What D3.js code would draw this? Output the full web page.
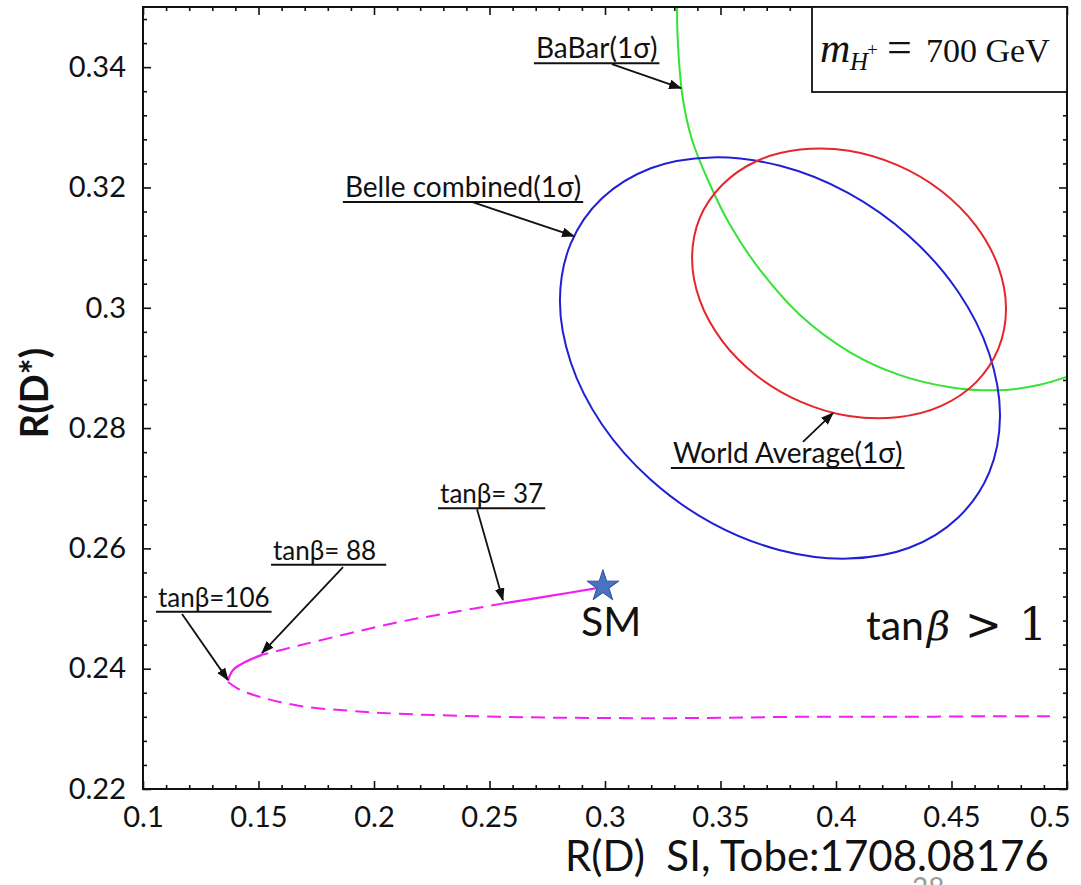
<!DOCTYPE html>
<html>
<head>
<meta charset="utf-8">
<script src="https://cdn.jsdelivr.net/npm/d3@7"></script>
<style>
  html, body { margin: 0; padding: 0; background: #fff; }
  svg { display: block; }
</style>
</head>
<body>
<svg id="chart" width="1081" height="885"></svg>
<script>
// ---- Axis ticks -------------------------------------------------------
const xMajorTicks = [0.1, 0.15, 0.2, 0.25, 0.3, 0.35, 0.4, 0.45, 0.5];
const xTickLabels = ["0.1", "0.15", "0.2", "0.25", "0.3", "0.35", "0.4", "0.45", "0.5"];
const yMajorTicks = [0.22, 0.24, 0.26, 0.28, 0.30, 0.32, 0.34];
const yTickLabels = ["0.22", "0.24", "0.26", "0.28", "0.3", "0.32", "0.34"];

// ---- 1 sigma contours: [R(D), R(D*)] ---------------------------------
const belleContour = [
  [0.4710, 0.2820], [0.4663, 0.2726], [0.4528, 0.2651], [0.4317, 0.2601],
  [0.4052, 0.2583], [0.3758, 0.2597], [0.3463, 0.2642], [0.3198, 0.2714],
  [0.2987, 0.2806], [0.2852, 0.2909], [0.2805, 0.3013], [0.2852, 0.3107],
  [0.2987, 0.3182], [0.3198, 0.3232], [0.3463, 0.3250], [0.3758, 0.3236],
  [0.4052, 0.3191], [0.4317, 0.3119], [0.4528, 0.3027], [0.4663, 0.2924]
];
const worldAvgContour = [
  [0.4736, 0.2998], [0.4703, 0.2932], [0.4606, 0.2876], [0.4456, 0.2837],
  [0.4266, 0.2818], [0.4056, 0.2820], [0.3846, 0.2844], [0.3657, 0.2887],
  [0.3507, 0.2945], [0.3410, 0.3013], [0.3377, 0.3083], [0.3410, 0.3149],
  [0.3507, 0.3204], [0.3657, 0.3244], [0.3846, 0.3263], [0.4056, 0.3261],
  [0.4266, 0.3237], [0.4456, 0.3194], [0.4606, 0.3136], [0.4703, 0.3068]
];
const babarArc = [
  [0.3316, 0.3528], [0.3312, 0.3500], [0.3320, 0.3412], [0.3338, 0.3345],
  [0.3377, 0.3279], [0.3446, 0.3212], [0.3541, 0.3138], [0.3671, 0.3063],
  [0.3844, 0.2988], [0.4061, 0.2926], [0.4277, 0.2888], [0.4494, 0.2868],
  [0.4710, 0.2863], [0.4883, 0.2872], [0.5035, 0.2890]
];

// ---- 2HDM prediction for m_H+ = 700 GeV, tanβ > 1 ---------------------
const smPoint = [0.2991, 0.2537];
const branchSmTo37 = [[0.2965, 0.2534], [0.2762, 0.2521], [0.2567, 0.2509]];
const branch37To88 = [
  [0.2567, 0.2509], [0.2329, 0.2493], [0.2113, 0.2478],
  [0.1896, 0.2459], [0.1680, 0.2439], [0.1515, 0.2423]
];
const branch88To106 = [[0.1515, 0.2423], [0.1442, 0.2411], [0.1390, 0.2398], [0.1368, 0.2381]];
const branchAbove106 = [
  [0.1368, 0.2378], [0.1420, 0.2365], [0.1507, 0.2353], [0.1680, 0.2338],
  [0.1896, 0.2330], [0.2113, 0.2325], [0.2545, 0.2320], [0.2978, 0.2318],
  [0.3411, 0.2318], [0.3844, 0.2320], [0.4277, 0.2320], [0.4710, 0.2321],
  [0.4926, 0.2321]
];

// ---- Layout ------------------------------------------------------------
const W = 1081, H = 885;
const plot = { left: 143, right: 1067, top: 7, bottom: 789 };
const textFont = "Lato, 'Open Sans', sans-serif";
const serifFont = "'Liberation Serif', 'DejaVu Serif', serif";
const ink = "#111";

const svg = d3.select("#chart");
svg.append("rect").attr("width", W).attr("height", H).attr("fill", "#fff");

const x = d3.scaleLinear().domain([0.1, 0.5]).range([plot.left, plot.right]);
const y = d3.scaleLinear().domain([0.22, 0.35]).range([plot.bottom, plot.top]);

const defs = svg.append("defs");
defs.append("clipPath").attr("id", "plot-clip")
  .append("rect")
  .attr("x", plot.left).attr("y", plot.top)
  .attr("width", plot.right - plot.left).attr("height", plot.bottom - plot.top);
defs.append("marker")
  .attr("id", "arrowhead")
  .attr("markerUnits", "userSpaceOnUse")
  .attr("viewBox", "0 0 12 9")
  .attr("refX", 11).attr("refY", 4.5)
  .attr("markerWidth", 13).attr("markerHeight", 10)
  .attr("orient", "auto")
  .append("path").attr("d", "M0,0 L12,4.5 L0,9 Z").attr("fill", ink);

// ---- Axes (ticks on all four sides, pointing inward) -------------------
const xMinor = d3.range(0.1, 0.5001, 0.01).filter(v => !xMajorTicks.some(t => Math.abs(t - v) < 1e-6));
const yMinor = d3.range(0.22, 0.3481, 0.004).filter(v => !yMajorTicks.some(t => Math.abs(t - v) < 1e-6));

function styleAxis(g) {
  g.select(".domain").remove();
  g.selectAll(".tick line").attr("stroke", ink).attr("stroke-width", 1.6);
  g.attr("font-family", textFont).attr("font-size", 29);
  g.selectAll(".tick text").attr("fill", ink);
}

const xAxisBottom = svg.append("g").attr("transform", `translate(0,${plot.bottom})`)
  .call(d3.axisBottom(x).tickValues(xMajorTicks).tickFormat((d, i) => xTickLabels[i]).tickSize(-8).tickPadding(17))
  .call(styleAxis);
// the last label sits flush against the right edge
xAxisBottom.selectAll(".tick text").filter((d, i) => i === xMajorTicks.length - 1)
  .attr("text-anchor", "end").attr("x", 3);

svg.append("g").attr("transform", `translate(0,${plot.bottom})`)
  .call(d3.axisBottom(x).tickValues(xMinor).tickFormat("").tickSize(-4))
  .call(styleAxis);
svg.append("g").attr("transform", `translate(0,${plot.top})`)
  .call(d3.axisTop(x).tickValues(xMajorTicks).tickFormat("").tickSize(-8))
  .call(styleAxis);
svg.append("g").attr("transform", `translate(0,${plot.top})`)
  .call(d3.axisTop(x).tickValues(xMinor).tickFormat("").tickSize(-4))
  .call(styleAxis);

svg.append("g").attr("transform", `translate(${plot.left},0)`)
  .call(d3.axisLeft(y).tickValues(yMajorTicks).tickFormat((d, i) => yTickLabels[i]).tickSize(-8).tickPadding(17))
  .call(styleAxis);
svg.append("g").attr("transform", `translate(${plot.left},0)`)
  .call(d3.axisLeft(y).tickValues(yMinor).tickFormat("").tickSize(-4))
  .call(styleAxis);
svg.append("g").attr("transform", `translate(${plot.right},0)`)
  .call(d3.axisRight(y).tickValues(yMajorTicks).tickFormat("").tickSize(-8))
  .call(styleAxis);
svg.append("g").attr("transform", `translate(${plot.right},0)`)
  .call(d3.axisRight(y).tickValues(yMinor).tickFormat("").tickSize(-4))
  .call(styleAxis);

// ---- Curves -------------------------------------------------------------
const curves = svg.append("g").attr("clip-path", "url(#plot-clip)").attr("fill", "none");
const closedLine = d3.line().x(d => x(d[0])).y(d => y(d[1])).curve(d3.curveCatmullRomClosed.alpha(0.5));
const openLine = d3.line().x(d => x(d[0])).y(d => y(d[1])).curve(d3.curveCatmullRom.alpha(0.5));

curves.append("path").attr("d", openLine(babarArc)).attr("stroke", "#35e335").attr("stroke-width", 2);
curves.append("path").attr("d", closedLine(belleContour)).attr("stroke", "#1f1fd6").attr("stroke-width", 2);
curves.append("path").attr("d", closedLine(worldAvgContour)).attr("stroke", "#e5262a").attr("stroke-width", 2);

const magenta = "#f21ff2";
curves.append("path").attr("d", openLine(branchSmTo37)).attr("stroke", magenta).attr("stroke-width", 2.2);
curves.append("path").attr("d", openLine(branch37To88)).attr("stroke", magenta).attr("stroke-width", 2)
  .attr("stroke-dasharray", "14,8");
curves.append("path").attr("d", openLine(branch88To106)).attr("stroke", magenta).attr("stroke-width", 2.2);
curves.append("path").attr("d", openLine(branchAbove106)).attr("stroke", magenta).attr("stroke-width", 2)
  .attr("stroke-dasharray", "14,8");

// ---- Plot frame -------------------------------------------------------------
svg.append("rect")
  .attr("x", plot.left).attr("y", plot.top)
  .attr("width", plot.right - plot.left).attr("height", plot.bottom - plot.top)
  .attr("fill", "none").attr("stroke", ink).attr("stroke-width", 2);

// ---- SM point -------------------------------------------------------------
svg.append("path")
  .attr("d", d3.symbol(d3.symbolStar, 310)())
  .attr("transform", `translate(${x(smPoint[0])},${y(smPoint[1])})`)
  .attr("fill", "#4a72c2").attr("stroke", "#2c4f94").attr("stroke-width", 1);
svg.append("text")
  .attr("x", x(smPoint[0]) - 22).attr("y", y(smPoint[1]) + 50)
  .attr("font-family", textFont).attr("font-size", 41).attr("fill", ink)
  .text("SM");

// ---- Underlined callouts with arrows ---------------------------------------
const callouts = [
  { text: "BaBar(1σ)",          at: [0.2701, 0.3415], size: 28, extra: 0,  tail: [0.3030, 0.3405], tip: [0.3329, 0.3365] },
  { text: "Belle combined(1σ)", at: [0.1874, 0.3184], size: 28, extra: 0,  tail: [0.2424, 0.3176], tip: [0.2866, 0.3119] },
  { text: "World Average(1σ)",  at: [0.3294, 0.2742], size: 28, extra: 0,  tail: [0.3857, 0.2777], tip: [0.3987, 0.2825] },
  { text: "tanβ= 37",           at: [0.2286, 0.2675], size: 26, extra: 0,  tail: [0.2446, 0.2665], tip: [0.2558, 0.2514] },
  { text: "tanβ= 88",           at: [0.1563, 0.2581], size: 26, extra: 8,  tail: [0.1866, 0.2569], tip: [0.1515, 0.2426] },
  { text: "tanβ=106",           at: [0.1065, 0.2503], size: 26, extra: 0,  tail: [0.1169, 0.2491], tip: [0.1368, 0.2381] }
];
const notes = svg.append("g");
callouts.forEach(c => {
  const tx = x(c.at[0]), ty = y(c.at[1]);
  const t = notes.append("text")
    .attr("x", tx).attr("y", ty)
    .attr("font-family", textFont).attr("font-size", c.size).attr("fill", ink)
    .text(c.text);
  const w = t.node().getComputedTextLength();
  notes.append("line")
    .attr("x1", tx - 2).attr("x2", tx + w + 2 + c.extra)
    .attr("y1", ty + 5).attr("y2", ty + 5)
    .attr("stroke", ink).attr("stroke-width", 2);
  notes.append("line")
    .attr("x1", x(c.tail[0])).attr("y1", y(c.tail[1]))
    .attr("x2", x(c.tip[0])).attr("y2", y(c.tip[1]))
    .attr("stroke", ink).attr("stroke-width", 1.8)
    .attr("marker-end", "url(#arrowhead)");
});

// ---- Mass legend box ---------------------------------------------------------
const boxLeft = 812, boxBottom = 92, massBase = 62;
svg.append("rect")
  .attr("x", boxLeft).attr("y", plot.top)
  .attr("width", plot.right - boxLeft).attr("height", boxBottom - plot.top)
  .attr("fill", "#fff").attr("stroke", ink).attr("stroke-width", 1.8);
const mass = svg.append("g").attr("font-family", serifFont).attr("fill", ink);
mass.append("text").attr("x", boxLeft + 8).attr("y", massBase)
  .attr("font-size", 42).attr("font-style", "italic").text("m");
mass.append("text").attr("x", boxLeft + 38).attr("y", massBase + 8)
  .attr("font-size", 25).attr("font-style", "italic").text("H");
mass.append("text").attr("x", boxLeft + 55).attr("y", massBase - 6)
  .attr("font-size", 19).text("+");
mass.append("text").attr("x", boxLeft + 75).attr("y", massBase)
  .attr("font-size", 44).text("=");
mass.append("text").attr("x", boxLeft + 114).attr("y", massBase)
  .attr("font-size", 34).text("700 GeV");

// ---- Region label ------------------------------------------------------------
const regionBase = 640;
svg.append("text").attr("x", 866).attr("y", regionBase)
  .attr("font-family", textFont).attr("font-size", 41).attr("fill", ink).text("tan");
svg.append("text").attr("x", 927).attr("y", regionBase)
  .attr("font-family", "'DejaVu Serif', serif").attr("font-style", "italic")
  .attr("font-size", 40).attr("fill", ink).text("β");
svg.append("text").attr("x", 965).attr("y", regionBase)
  .attr("font-family", "'DejaVu Serif', serif").attr("font-size", 44).attr("fill", ink).text(">");
svg.append("text").attr("x", 1019).attr("y", regionBase)
  .attr("font-family", "'DejaVu Serif', serif").attr("font-size", 44).attr("fill", ink).text("1");

// ---- Axis titles -------------------------------------------------------------
svg.append("text")
  .attr("transform", "translate(48,393) rotate(-90)")
  .attr("text-anchor", "middle")
  .attr("font-family", textFont).attr("font-weight", 700).attr("font-size", 38).attr("fill", ink)
  .text("R(D*)");
svg.append("text")
  .attr("x", 565).attr("y", 871)
  .attr("font-family", textFont).attr("font-size", 42).attr("fill", ink)
  .style("white-space", "pre")
  .text("R(D)  SI, Tobe:1708.08176");

// slide page number peeking in at the bottom edge
svg.append("text")
  .attr("x", 912).attr("y", 898)
  .attr("font-family", textFont).attr("font-size", 28).attr("fill", "#9a9a9a")
  .text("28");
</script>
</body>
</html>
